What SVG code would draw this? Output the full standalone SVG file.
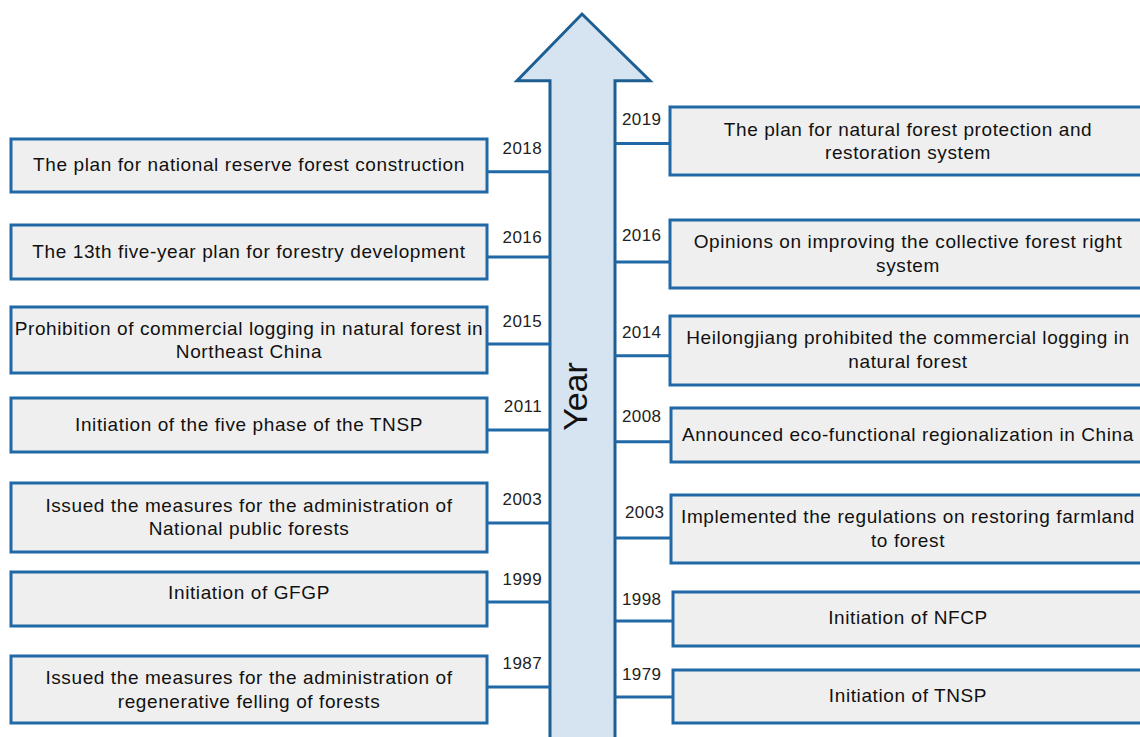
<svg xmlns="http://www.w3.org/2000/svg" width="1140" height="737" viewBox="0 0 1140 737">
<style>
.box{fill:#efefef;stroke:#2169a6;stroke-width:3}
.lbl{font-family:"Liberation Sans",Arial,sans-serif;font-size:19px;letter-spacing:0.6px;fill:#111;text-anchor:middle}
.yr{font-family:"Liberation Sans",Arial,sans-serif;font-size:17px;letter-spacing:0.4px;fill:#222}
.yl{text-anchor:end}
.conn line{stroke:#2169a6;stroke-width:3}
</style>
<rect width="1140" height="737" fill="#ffffff"/>
<g id="timeline-arrow">
<path d="M550,745 L550,80.7 L517,80.7 L582,14 L650,80.7 L615,80.7 L615,745" fill="#d6e4f1" stroke="#1d5f93" stroke-width="3" stroke-linejoin="miter"/>
<text transform="translate(587,396.5) rotate(-90)" font-family="Liberation Sans,Arial,sans-serif" font-size="34" fill="#111" text-anchor="middle">Year</text>
</g>
<g class="conn" id="connectors">
<line x1="487" y1="171.7" x2="550" y2="171.7"/>
<line x1="487" y1="257" x2="550" y2="257"/>
<line x1="487" y1="344" x2="550" y2="344"/>
<line x1="487" y1="430" x2="550" y2="430"/>
<line x1="487" y1="523" x2="550" y2="523"/>
<line x1="487" y1="602" x2="550" y2="602"/>
<line x1="487" y1="687" x2="550" y2="687"/>
<line x1="615" y1="143.5" x2="670" y2="143.5"/>
<line x1="615" y1="262" x2="670" y2="262"/>
<line x1="615" y1="355.7" x2="670" y2="355.7"/>
<line x1="615" y1="441.7" x2="670" y2="441.7"/>
<line x1="615" y1="538" x2="670" y2="538"/>
<line x1="615" y1="621" x2="673" y2="621"/>
<line x1="615" y1="697" x2="673" y2="697"/>
</g>
<g id="L2018"><rect class="box" x="11" y="139" width="476" height="53"/><text class="lbl" x="249" y="171">The plan for national reserve forest construction</text><text class="yr yl" x="542" y="154">2018</text></g>
<g id="L2016"><rect class="box" x="11" y="225" width="476" height="54"/><text class="lbl" x="249" y="258">The 13th five-year plan for forestry development</text><text class="yr yl" x="542" y="243">2016</text></g>
<g id="L2015"><rect class="box" x="11" y="307" width="476" height="66"/><text class="lbl" x="249" y="335">Prohibition of commercial logging in natural forest in</text><text class="lbl" x="249" y="358">Northeast China</text><text class="yr yl" x="542" y="327">2015</text></g>
<g id="L2011"><rect class="box" x="11" y="398" width="476" height="54"/><text class="lbl" x="249" y="431">Initiation of the five phase of the TNSP</text><text class="yr yl" x="542" y="412">2011</text></g>
<g id="L2003"><rect class="box" x="11" y="483" width="476" height="69"/><text class="lbl" x="249" y="512">Issued the measures for the administration of</text><text class="lbl" x="249" y="535">National public forests</text><text class="yr yl" x="542" y="505">2003</text></g>
<g id="L1999"><rect class="box" x="11" y="572" width="476" height="54"/><text class="lbl" x="249" y="599">Initiation of GFGP</text><text class="yr yl" x="542" y="585">1999</text></g>
<g id="L1987"><rect class="box" x="11" y="656" width="476" height="67"/><text class="lbl" x="249" y="684">Issued the measures for the administration of</text><text class="lbl" x="249" y="708">regenerative felling of forests</text><text class="yr yl" x="542" y="669">1987</text></g>
<g id="R2019"><rect class="box" x="670" y="107" width="480" height="68"/><text class="lbl" x="908" y="136">The plan for natural forest protection and</text><text class="lbl" x="908" y="159">restoration system</text><text class="yr" x="622" y="125">2019</text></g>
<g id="R2016"><rect class="box" x="670" y="220" width="480" height="68"/><text class="lbl" x="908" y="248">Opinions on improving the collective forest right</text><text class="lbl" x="908" y="272">system</text><text class="yr" x="622" y="241">2016</text></g>
<g id="R2014"><rect class="box" x="670" y="316" width="480" height="69"/><text class="lbl" x="908" y="344">Heilongjiang prohibited the commercial logging in</text><text class="lbl" x="908" y="368">natural forest</text><text class="yr" x="622" y="338">2014</text></g>
<g id="R2008"><rect class="box" x="671" y="408" width="480" height="54"/><text class="lbl" x="908" y="441">Announced eco-functional regionalization in China</text><text class="yr" x="622" y="422">2008</text></g>
<g id="R2003"><rect class="box" x="671" y="495" width="480" height="68"/><text class="lbl" x="908" y="523">Implemented the regulations on restoring farmland</text><text class="lbl" x="908" y="547">to forest</text><text class="yr" x="625" y="518">2003</text></g>
<g id="R1998"><rect class="box" x="673" y="592" width="480" height="54"/><text class="lbl" x="908" y="624">Initiation of NFCP</text><text class="yr" x="622" y="605">1998</text></g>
<g id="R1979"><rect class="box" x="673" y="670" width="480" height="53"/><text class="lbl" x="908" y="702">Initiation of TNSP</text><text class="yr" x="622" y="680">1979</text></g>
</svg>
